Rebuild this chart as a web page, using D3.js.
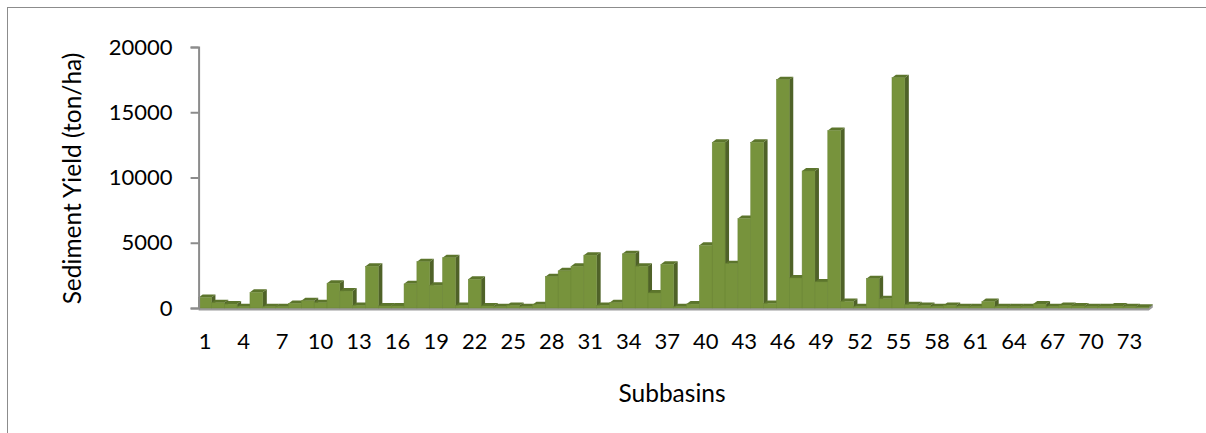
<!DOCTYPE html>
<html>
<head>
<meta charset="utf-8">
<script src="https://cdn.jsdelivr.net/npm/d3@7"></script>
<style>
  html, body { margin: 0; padding: 0; background: #ffffff; }
  svg { display: block; }
  text { font-family: Lato, "Open Sans", "Liberation Sans", sans-serif; fill: #000; }
</style>
</head>
<body>
<svg id="chart" width="1206" height="433"></svg>
<script>
// Sediment yield per subbasin (ton/ha)
const subbasins = d3.range(1, 75);
const sedimentYield = [
  800, 400, 300, 100, 1200, 100, 100, 350, 550, 400,
  1900, 1300, 200, 3200, 150, 150, 1850, 3550, 1750, 3850,
  200, 2200, 150, 100, 200, 100, 250, 2400, 2850, 3200,
  4050, 200, 400, 4150, 3200, 1150, 3350, 100, 300, 4800,
  12700, 3400, 6850, 12700, 350, 17500, 2300, 10500, 2000, 13600,
  500, 100, 2250, 700, 17650, 250, 200, 100, 200, 100,
  100, 500, 100, 100, 100, 300, 100, 200, 150, 100,
  100, 150, 100, 50
];
const xTickLabels = d3.range(1, 75, 3);
const yTickValues = [0, 5000, 10000, 15000, 20000];
const yTitle = "Sediment Yield (ton/ha)";
const xTitle = "Subbasins";

const svg = d3.select("#chart");

// chart area frame
svg.append("rect")
  .attr("x", 7.5).attr("y", 7.5)
  .attr("width", 1220).attr("height", 450)
  .attr("fill", "none").attr("stroke", "#8c8c8c").attr("stroke-width", 1);

const plot = { left: 198.6, right: 1148.8, top: 47, bottom: 308 };
const x = d3.scaleBand().domain(subbasins).range([plot.left, plot.right]).padding(0);
const y = d3.scaleLinear().domain([0, 20000]).range([plot.bottom, plot.top]);

// depth offsets of the 3-D columns
const dx = 4, dy = 3;

// floor slab under the columns
const floor = svg.append("g");
floor.append("polygon")
  .attr("points", [
    [plot.left, plot.bottom], [plot.right, plot.bottom],
    [plot.right + dx, plot.bottom - dy], [plot.left + dx, plot.bottom - dy]
  ].map(p => p.join(",")).join(" "))
  .attr("fill", "#d0d0d0");
floor.append("polygon")
  .attr("points", [
    [plot.left, plot.bottom], [plot.right, plot.bottom],
    [plot.right + dx, plot.bottom - dy], [plot.right + dx, plot.bottom - dy + 2.5],
    [plot.right, plot.bottom + 2.5], [plot.left, plot.bottom + 2.5]
  ].map(p => p.join(",")).join(" "))
  .attr("fill", "#9a9a9a");

// columns, drawn from back (left) to front (right)
const bars = svg.append("g").selectAll("g.col")
  .data(subbasins.map((s, i) => ({ s, v: sedimentYield[i] })))
  .join("g").attr("class", "col");

bars.each(function(d) {
  const g = d3.select(this);
  const x0 = x(d.s), x1 = x(d.s) + x.bandwidth();
  const yt = y(d.v), yb = y(0);
  const pts = a => a.map(p => p.join(",")).join(" ");
  // right side face
  g.append("polygon")
    .attr("points", pts([[x1, yt], [x1 + dx, yt - dy], [x1 + dx, yb - dy], [x1, yb]]))
    .attr("fill", "#4f6228");
  // top face
  g.append("polygon")
    .attr("points", pts([[x0, yt], [x1, yt], [x1 + dx, yt - dy], [x0 + dx, yt - dy]]))
    .attr("fill", "#5c752c");
  // front face
  g.append("rect")
    .attr("x", x0).attr("y", yt)
    .attr("width", x.bandwidth()).attr("height", yb - yt)
    .attr("fill", "#77933c")
    .attr("stroke", "#6c8736").attr("stroke-width", 0.5);
});

// y axis
const yAxis = svg.append("g")
  .attr("transform", `translate(${plot.left},0)`)
  .call(d3.axisLeft(y).tickValues(yTickValues).tickFormat(d3.format("d")).tickSize(8).tickPadding(18));
yAxis.select(".domain").attr("stroke", "#8c8c8c").attr("stroke-width", 2);
yAxis.selectAll(".tick line").attr("stroke", "#8c8c8c").attr("stroke-width", 2);
yAxis.selectAll(".tick text").attr("font-size", 22).attr("fill", "#000")
  .style("font-family", "Lato, 'Open Sans', sans-serif");

// x axis labels
const xAxis = svg.append("g")
  .attr("transform", `translate(0,${plot.bottom + 2})`)
  .call(d3.axisBottom(x).tickValues(xTickLabels).tickSize(0).tickPadding(23));
xAxis.select(".domain").remove();
xAxis.selectAll(".tick text").attr("font-size", 22).attr("fill", "#000")
  .style("font-family", "Lato, 'Open Sans', sans-serif");

// axis titles
svg.append("text")
  .attr("transform", `translate(81,${(plot.top + plot.bottom) / 2 + 1}) rotate(-90)`)
  .attr("text-anchor", "middle")
  .attr("font-size", 24.5)
  .text(yTitle);

svg.append("text")
  .attr("x", 672).attr("y", 402)
  .attr("text-anchor", "middle")
  .attr("font-size", 24.5)
  .text(xTitle);
</script>
</body>
</html>
